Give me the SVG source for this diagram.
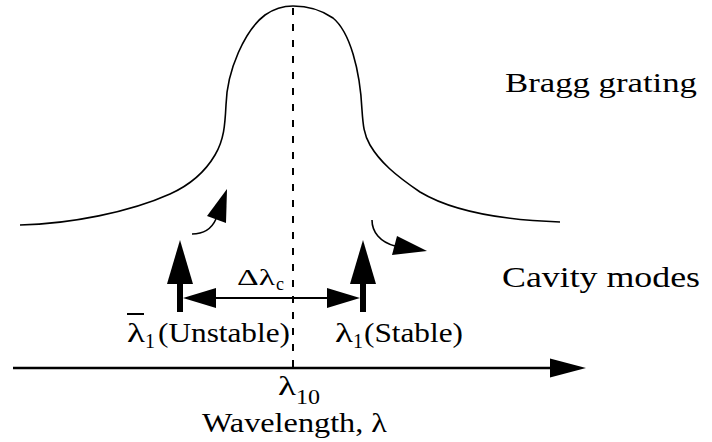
<svg xmlns="http://www.w3.org/2000/svg" width="712" height="442" viewBox="0 0 712 442">
<style>
.ln{stroke:#000;fill:none}
.hd{fill:#000;stroke:none}
</style>
<rect width="712" height="442" fill="#fff"/>
<g id="bragg-curve">
<path class="ln" stroke-width="1.6" d="M20,225 C70,224 130,212 170,194 C190,185 205,172 215,155 C224,140 225,125 226,105 C227,70 245,30 265,15 C275,8 285,6 293,6 C305,6 320,9 333,18 C350,32 360,70 362,110 C363,125 364,135 370,145 C380,162 395,175 420,192 C450,210 500,220 560,222"/>
</g>
<g id="center-line">
<line class="ln" x1="293" y1="8" x2="293" y2="368" stroke-width="2" stroke-dasharray="7,9"/>
</g>
<g id="connectors">
<g id="axis">
<line class="ln" x1="13" y1="368" x2="552" y2="368" stroke-width="2.5"/>
<polygon class="hd" points="586,368 550,358.5 550,377.5"/>
</g>
<g id="mode-unstable">
<line class="ln" x1="180" y1="282" x2="180" y2="312" stroke-width="6"/>
<polygon class="hd" points="180,240 167,284 193,284"/>
</g>
<g id="mode-stable">
<line class="ln" x1="363" y1="282" x2="363" y2="312" stroke-width="6"/>
<polygon class="hd" points="363,240 350,284 376,284"/>
</g>
<g id="delta-arrow">
<line class="ln" x1="214" y1="298" x2="329" y2="298" stroke-width="2"/>
<polygon class="hd" points="183,298 216,288 216,308"/>
<polygon class="hd" points="360,298 327,288 327,308"/>
</g>
<g id="shift-left">
<path class="ln" stroke-width="1.6" d="M192,234 C205,234 212,228 216,219"/>
<polygon class="hd" points="227,189 207,216 226,223"/>
</g>
<g id="shift-right">
<path class="ln" stroke-width="1.6" d="M372,220 C372,232 380,242 395,246"/>
<polygon class="hd" points="427,251 397,236 392,255"/>
</g>
</g>
<g id="labels" font-family="Liberation Serif, DejaVu Serif, serif" fill="#000">
<text x="505" y="92" font-size="28" textLength="192" lengthAdjust="spacingAndGlyphs">Bragg grating</text>
<text x="502" y="287" font-size="29" textLength="198" lengthAdjust="spacingAndGlyphs">Cavity modes</text>
<text x="237" y="285" font-size="24" textLength="38" lengthAdjust="spacingAndGlyphs">Δλ</text>
<text x="276" y="290" font-size="18">c</text>
<line x1="127" y1="314" x2="144" y2="314" stroke="#000" stroke-width="2"/>
<text x="127" y="342" font-size="28" textLength="18" lengthAdjust="spacingAndGlyphs">λ</text>
<text x="145" y="348" font-size="20">1</text>
<text x="158" y="342" font-size="28" textLength="132" lengthAdjust="spacingAndGlyphs">(Unstable)</text>
<text x="335" y="342" font-size="28" textLength="18" lengthAdjust="spacingAndGlyphs">λ</text>
<text x="353" y="348" font-size="20">1</text>
<text x="364" y="342" font-size="28" textLength="99" lengthAdjust="spacingAndGlyphs">(Stable)</text>
<text x="278" y="395" font-size="27" textLength="18" lengthAdjust="spacingAndGlyphs">λ</text>
<text x="296" y="404" font-size="21" textLength="24" lengthAdjust="spacingAndGlyphs">10</text>
<text x="202" y="432" font-size="27" textLength="185" lengthAdjust="spacingAndGlyphs">Wavelength, λ</text>
</g>
</svg>
